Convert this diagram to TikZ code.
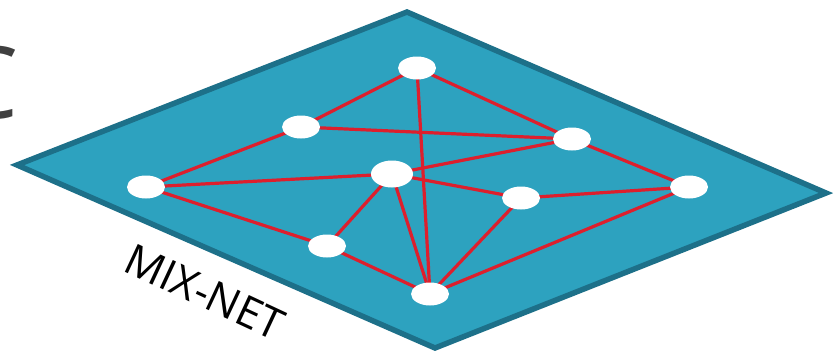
\documentclass[tikz,border=0pt]{standalone}
\usepackage{fontspec}
\setmainfont{Open Sans}
\usetikzlibrary{shapes.geometric}
\definecolor{plate}{HTML}{2DA2BF}
\definecolor{plateedge}{HTML}{1D7089}
\definecolor{link}{HTML}{DD1F2D}
\definecolor{glyph}{HTML}{404040}
\pgfdeclarelayer{base}
\pgfdeclarelayer{links}
\pgfsetlayers{base,links,main}
\begin{document}
\begin{tikzpicture}[x=1pt,y=-1pt,
  peer/.style={ellipse, fill=white, minimum width=38pt, minimum height=23pt, inner sep=0pt},
  hub/.style={peer, minimum width=42pt, minimum height=27pt},
  wire/.style={draw=link, line width=3.2pt}]
\useasboundingbox (0,0) rectangle (839,357);
\clip (0,0) rectangle (839,357);

% partially visible letter at the left margin
\node[text=glyph, font=\fontsize{100}{100}\selectfont, anchor=base east, inner sep=0pt] (letter) at (19,118) {C};

% the mix-net plane
\begin{pgfonlayer}{base}
\filldraw[fill=plate, draw=plateedge, line width=5.5pt, line join=miter, miter limit=20]
  (407,12) coordinate (ptop) -- (826,193) coordinate (pright)
  -- (435,348) coordinate (pbottom) -- (17,165) coordinate (pleft) -- cycle;
\end{pgfonlayer}

% mix nodes
\node[peer] (a) at (417,68) {};
\node[peer] (b) at (301,127) {};
\node[peer] (c) at (572,139) {};
\node[peer] (d) at (146,187) {};
\node[hub]  (e) at (392,174) {};
\node[peer] (f) at (521,198) {};
\node[peer] (g) at (689,187) {};
\node[peer] (h) at (327,246) {};
\node[peer] (i) at (430,294) {};

% links between mixes
\begin{pgfonlayer}{links}
\foreach \u/\v in {a/b, a/c, a/i, b/c, b/d, c/e, c/g, d/e, d/h, h/e, e/f, e/i, f/g, f/i, g/i, h/i}
  \draw[wire] (\u.center) -- (\v.center);
\end{pgfonlayer}

% label along the front edge
\node[rotate=-25, font=\fontsize{43}{43}\selectfont, inner sep=0pt] (label) at (205,292) {MIX-NET};
\end{tikzpicture}
\end{document}
